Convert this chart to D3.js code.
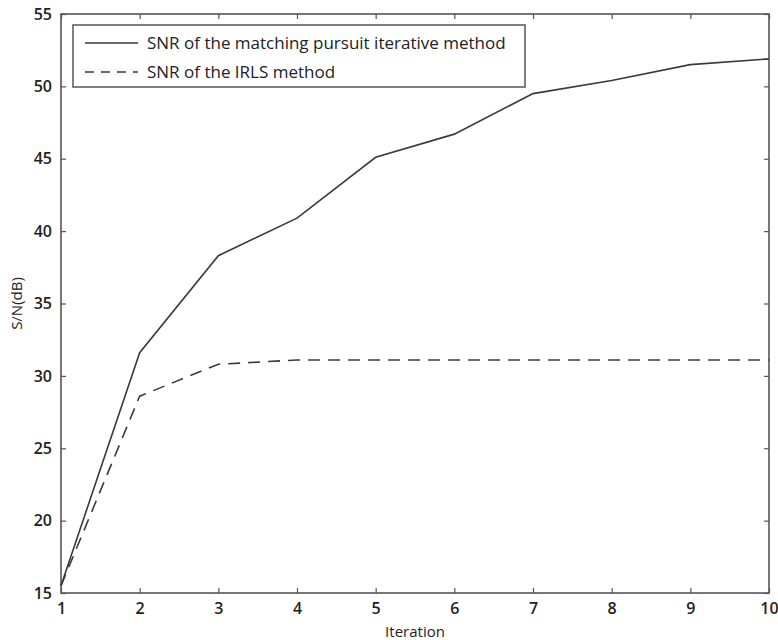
<!DOCTYPE html>
<html>
<head>
<meta charset="utf-8">
<script src="https://cdn.jsdelivr.net/npm/d3@7"></script>
<style>
  body { margin: 0; background: #fff; }
  text { font-family: "Open Sans", "Noto Sans", sans-serif; fill: #222; }
</style>
</head>
<body>
<svg id="chart" width="778" height="640"></svg>
<script>
/************************* Data *************************/
const iterations = [1, 2, 3, 4, 5, 6, 7, 8, 9, 10];
const snrMatchingPursuit = [15.5, 31.6, 38.3, 40.9, 45.1, 46.7, 49.5, 50.4, 51.5, 51.9];
const snrIRLS = [15.5, 28.6, 30.8, 31.1, 31.1, 31.1, 31.1, 31.1, 31.1, 31.1];
const xTicks = [1, 2, 3, 4, 5, 6, 7, 8, 9, 10];
const yTicks = [15, 20, 25, 30, 35, 40, 45, 50, 55];
const seriesNames = ["SNR of the matching pursuit iterative method", "SNR of the IRLS method"];

/************************* Layout *************************/
const margin = {top: 14, right: 9, bottom: 47, left: 61};
const width = 778 - margin.left - margin.right;
const height = 640 - margin.top - margin.bottom;
const axisColor = "#555";
const lineColor = "#3a3a3a";

const svg = d3.select("#chart");
const g = svg.append("g").attr("transform", `translate(${margin.left},${margin.top})`);

const x = d3.scaleLinear().domain([1, 10]).range([0, width]);
const y = d3.scaleLinear().domain([15, 55]).range([height, 0]);

// Axes (ticks point inward, mirrored on top/right)
function styleAxis(sel, showLabels) {
  sel.select(".domain").remove();
  sel.selectAll(".tick line").attr("stroke", axisColor).attr("stroke-width", 1.2);
  sel.selectAll(".tick text")
    .style("font-size", "16px")
    .style("font-weight", "600")
    .attr("fill", "#333");
  if (!showLabels) sel.selectAll(".tick text").remove();
}

g.append("g")
  .attr("transform", `translate(0,${height})`)
  .call(d3.axisBottom(x).tickValues(xTicks).tickSize(-5).tickPadding(10).tickFormat(d3.format("d")))
  .call(s => styleAxis(s, true));

g.append("g")
  .call(d3.axisTop(x).tickValues(xTicks).tickSize(-5).tickFormat(""))
  .call(s => styleAxis(s, false));

g.append("g")
  .call(d3.axisLeft(y).tickValues(yTicks).tickSize(-5).tickPadding(9).tickFormat(d3.format("d")))
  .call(s => styleAxis(s, true));

g.append("g")
  .attr("transform", `translate(${width},0)`)
  .call(d3.axisRight(y).tickValues(yTicks).tickSize(-5).tickFormat(""))
  .call(s => styleAxis(s, false));

// Frame
g.append("rect")
  .attr("width", width).attr("height", height)
  .attr("fill", "none").attr("stroke", axisColor).attr("stroke-width", 1.6);

// Lines
const line = d3.line()
  .x((d, i) => x(iterations[i]))
  .y(d => y(d));

g.append("path")
  .datum(snrMatchingPursuit)
  .attr("d", line)
  .attr("fill", "none").attr("stroke", lineColor).attr("stroke-width", 1.6);

g.append("path")
  .datum(snrIRLS)
  .attr("d", line)
  .attr("fill", "none").attr("stroke", lineColor).attr("stroke-width", 1.6)
  .attr("stroke-dasharray", "12,8");

// Legend
const legend = g.append("g").attr("transform", "translate(12,11)");
legend.append("rect")
  .attr("width", 452).attr("height", 62)
  .attr("fill", "#fff").attr("stroke", axisColor).attr("stroke-width", 1.5);

const legendRows = [
  {name: seriesNames[0], dash: null},
  {name: seriesNames[1], dash: "9,7"}
];
legendRows.forEach((row, i) => {
  const ly = 18 + i * 29;
  legend.append("line")
    .attr("x1", 12).attr("x2", 65).attr("y1", ly).attr("y2", ly)
    .attr("stroke", lineColor).attr("stroke-width", 1.5)
    .attr("stroke-dasharray", row.dash);
  legend.append("text")
    .attr("x", 74).attr("y", ly)
    .attr("dy", "0.35em")
    .style("font-size", "17px")
    .style("font-weight", "500")
    .text(row.name);
});

// Axis titles
svg.append("text")
  .attr("x", margin.left + width / 2).attr("y", 637)
  .attr("text-anchor", "middle")
  .style("font-size", "15px")
  .style("font-weight", "500")
  .text("Iteration");

svg.append("text")
  .attr("transform", `translate(22,${margin.top + height / 2}) rotate(-90)`)
  .attr("text-anchor", "middle")
  .style("font-size", "15px")
  .style("font-weight", "500")
  .text("S/N(dB)");
</script>
</body>
</html>
